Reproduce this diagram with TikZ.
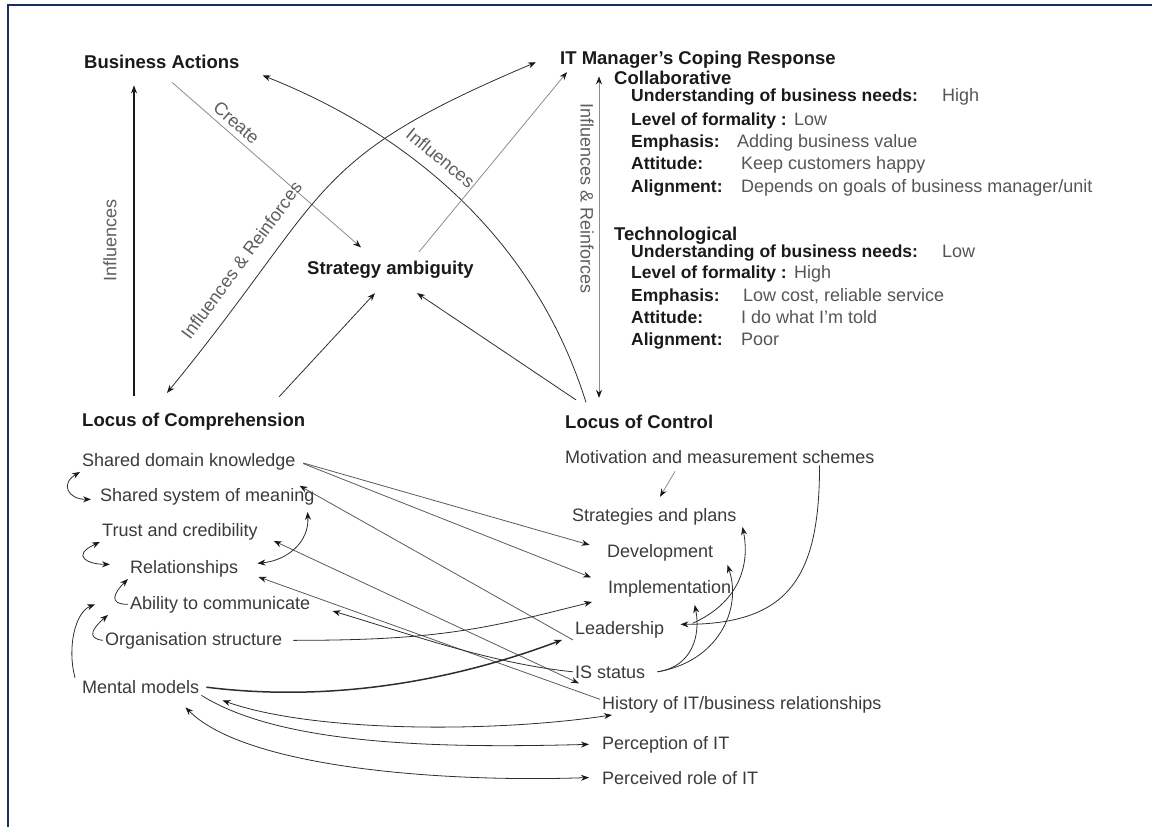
\documentclass[tikz,border=0pt]{standalone}
\usepackage{fontspec}
\setmainfont{Liberation Sans}
\usetikzlibrary{positioning,arrows.meta}
\definecolor{navyline}{HTML}{1B2F5E}
\definecolor{ink}{HTML}{1A1A1A}
\definecolor{factorgrey}{HTML}{3A3A3A}
\definecolor{valuegrey}{HTML}{555555}
\definecolor{labelgrey}{HTML}{5E5E5E}
\definecolor{darkline}{HTML}{2E2E2E}
\definecolor{midline}{HTML}{5A5A5A}
\definecolor{paleline}{HTML}{8C8C8C}
\newcommand{\hdfont}{\fontsize{18.5}{22}\selectfont\bfseries}
\newcommand{\ftfont}{\fontsize{18}{22}\selectfont}
\newcommand{\kyfont}{\fontsize{17.5}{21}\selectfont\bfseries}
\tikzset{head/.style={font=\hdfont,text=ink,inner sep=2pt,anchor=base west},factor/.style={font=\ftfont,text=factorgrey,inner sep=2pt,anchor=base west},item/.style={font=\kyfont,text=ink,inner sep=2pt,anchor=base west},value/.style={font=\ftfont,text=valuegrey,inner sep=2pt,anchor=base west},lbl/.style={font=\ftfont,text=labelgrey,inner sep=2pt,sloped},link/.style={draw=darkline,line width=.8pt,->},pale/.style={draw=paleline,line width=.8pt,->},twin/.style={draw=darkline,line width=.8pt,<->}}

\begin{document}
\begin{tikzpicture}[x=1pt,y=-1pt,>={Stealth[length=8pt,width=6pt,color=ink]}]
\useasboundingbox (0,0) rectangle (1152,827);
\draw[navyline,line width=2pt] (8,827) -- (8,5) -- (1152,5);
% main concepts
\node[head] (ba) at (82,68) {Business Actions};
\node[head] (itm) at (558,64) {IT Manager's Coping Response};
\node[head] (collab) at (612,84) {Collaborative};
\node[head] (tech) at (612,240) {Technological};
\node[head] (sa) at (305,274) {Strategy ambiguity};
\node[head] (lcomp) at (80,426) {Locus of Comprehension};
\node[head] (lctrl) at (563,428) {Locus of Control};
\foreach \n/\y/\k/\v/\vx in {1/101/{Understanding of business needs:}/High/940,2/125/{Level of formality :}/Low/792,3/147/{Emphasis:}/{Adding business value}/735,4/169/{Attitude:}/{Keep customers happy}/739,5/192/{Alignment:}/{Depends on goals of business manager/unit}/739}{
  \node[item] (ck\n) at (629,\y) {\k};
  \node[value] (cv\n) at (\vx,\y) {\v};
}
\foreach \n/\y/\k/\v/\vx in {1/257/{Understanding of business needs:}/Low/940,2/278/{Level of formality :}/High/792,3/301/{Emphasis:}/{Low cost, reliable service}/741,4/323/{Attitude:}/{I do what I'm told}/739,5/345/{Alignment:}/Poor/739}{
  \node[item] (tk\n) at (629,\y) {\k};
  \node[value] (tv\n) at (\vx,\y) {\v};
}
% comprehension factors
\node[factor] (sdk) at (80,466) {Shared domain knowledge};
\node[factor] (ssm) at (98,501) {Shared system of meaning};
\node[factor] (tac) at (100,536) {Trust and credibility};
\node[factor] (rel) at (128,573) {Relationships};
\node[factor] (atc) at (128,609) {Ability to communicate};
\node[factor] (org) at (103,645) {Organisation structure};
\node[factor] (mm) at (80,693) {Mental models};
% control factors
\node[factor] (mot) at (563,463) {Motivation and measurement schemes};
\node[factor] (sap) at (570,521) {Strategies and plans};
\node[factor] (dev) at (605,557) {Development};
\node[factor] (imp) at (606,593) {Implementation};
\node[factor] (lead) at (573,634) {Leadership};
\node[factor] (iss) at (573,678) {IS status};
\node[factor] (hist) at (600,709) {History of IT/business relationships};
\node[factor] (perc) at (600,749) {Perception of IT};
\node[factor] (prole) at (600,784) {Perceived role of IT};
% upper links
\draw[link,draw=ink,line width=1.1pt] ([xshift=54pt,yshift=14pt]lcomp.north west) -- ([xshift=52pt,yshift=-15pt]ba.south west) node[lbl,midway,above=15pt] {Influences};
\draw[pale] ([xshift=90pt,yshift=-12pt]ba.south west) -- ([xshift=56pt,yshift=11pt]sa.north west) node[lbl,pos=.3,above=3pt] {Create};
\draw[link] ([xshift=23pt,yshift=10pt]lctrl.north west) .. controls +(-53,-169) and +(141,56) .. ([xshift=21pt,yshift=-14pt]ba.east) node[lbl,pos=.58,above=9pt] {Influences};
\draw[twin] ([xshift=87pt,yshift=17.5pt]lcomp.north west) .. controls +(166,-203) and +(-232,98) .. ([xshift=-22pt,yshift=-3pt]itm.west) node[lbl,pos=.24,above=13pt] {Influences \& Reinforces};
\draw[pale] ([xshift=114pt,yshift=6.5pt]sa.north west) -- ([xshift=9pt,yshift=-2pt]itm.south west);
\draw[link] ([xshift=199pt,yshift=13.5pt]lcomp.north west) -- ([xshift=70pt,yshift=-13pt]sa.south west);
\draw[link] ([xshift=13pt,yshift=12.5pt]lctrl.north west) -- ([xshift=112pt,yshift=-13pt]sa.south west);
\draw[twin,draw=paleline] ([xshift=-13pt,yshift=1pt]collab.west) -- ([xshift=36pt,yshift=14.5pt]lctrl.north west) node[lbl,pos=.38,allow upside down,below=3pt] {Influences \& Reinforces};
% comprehension side
\draw[twin] (sdk.south west) .. controls +(-20,12) and +(-23,0) .. ([xshift=-7pt,yshift=-3pt]ssm.west);
\draw[twin] (tac.south west) .. controls +(-30,14) and +(-22,0) .. ([xshift=-18pt,yshift=4pt]rel.west);
\draw[link] (atc.west) .. controls +(-20,0) and +(-14,14) .. (rel.south west);
\draw[link] (org.west) .. controls +(-18,-2) and +(-14,12) .. ([xshift=-20pt]atc.south west);
\draw[link] ([xshift=-5pt]mm.north west) .. controls +(-8,-30) and +(-20,8) .. ([xshift=-33pt]atc.west);
\draw[twin] ([xshift=17pt,yshift=5pt]rel.east) .. controls +(30,-3) and +(2,30) .. ([xshift=-9pt,yshift=-5pt]ssm.south east);
% cross links
\foreach \x/\s in {dev/3pt,imp/5pt}\draw[link,draw=midline,shorten <=6pt,shorten >=16pt] (sdk.east) -- ([yshift=\s]\x.west);
\draw[link,draw=midline] (lead.south west) -- ([xshift=-17pt]ssm.north east);
\draw[twin,draw=midline] ([xshift=14pt,yshift=1pt]tac.south east) -- ([xshift=6pt,yshift=-3pt]iss.south west);
\draw[link,draw=midline] ([yshift=5pt]hist.west) -- ([xshift=18pt,yshift=2pt]rel.south east);
\draw[link] (iss.west) .. controls +(-80,-8) and +(80,24) .. ([xshift=20pt,yshift=4pt]atc.south east);
\draw[link,shorten <=9pt] (org.east) .. controls +(150,0) and +(-110,28) .. ([xshift=-14pt,yshift=-3pt]imp.south west);
\draw[link,line width=1.5pt,shorten <=5pt] (mm.east) .. controls +(120,15) and +(-120,45) .. ([xshift=-11pt]lead.south west);
\draw[twin] ([xshift=21pt,yshift=-5pt]mm.south east) .. controls +(90,32) and +(-120,18) .. ([xshift=12pt]hist.south west);
\draw[link] (mm.south east) .. controls +(80,50) and +(-150,4) .. ([xshift=-11pt]perc.west);
\draw[twin] ([xshift=-16pt,yshift=-12pt]mm.south east) .. controls +(60,60) and +(-150,5) .. ([xshift=-11pt]prole.west);
% control side
\draw[link,draw=paleline] ([xshift=112pt,yshift=-6pt]mot.south west) -- ([xshift=90pt,yshift=9pt]sap.north west);
\draw[link] ([xshift=-57pt]mot.south east) .. controls +(0,110) and +(110,0) .. ([xshift=14pt,yshift=5pt]lead.east);
\draw[link] ([xshift=26pt,yshift=6pt]lead.east) .. controls +(45,-20) and +(8,40) .. ([xshift=4pt]sap.south east);
\draw[link] ([xshift=10pt]iss.east) .. controls +(60,-10) and +(15,45) .. ([xshift=12pt,yshift=-2pt]dev.south east);
\draw[link] ([xshift=10pt]iss.east) .. controls +(35,-5) and +(6,30) .. ([xshift=25pt,yshift=-6pt]imp.south);
\end{tikzpicture}
\end{document}
